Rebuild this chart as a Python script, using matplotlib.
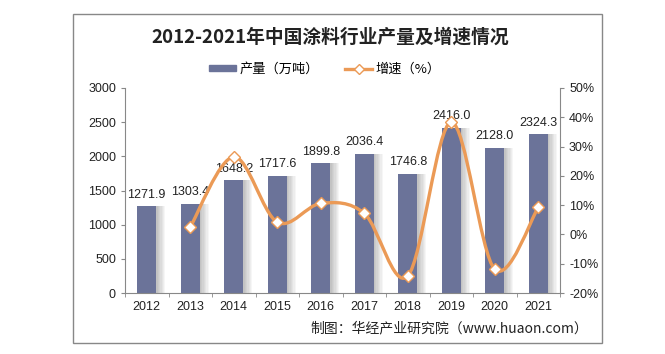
import numpy as np
import matplotlib
matplotlib.use('Agg')
import matplotlib.pyplot as plt
from matplotlib.path import Path
from matplotlib.patches import PathPatch, Rectangle
from matplotlib.lines import Line2D
from matplotlib.patches import Patch

plt.rcParams['font.family'] = ['Liberation Sans', 'Noto Sans CJK SC', 'DejaVu Sans']

years = ['2012', '2013', '2014', '2015', '2016', '2017', '2018', '2019', '2020', '2021']
output = [1271.9, 1303.4, 1648.2, 1717.6, 1899.8, 2036.4, 1746.8, 2416.0, 2128.0, 2324.3]
growth = [None, 2.5, 26.5, 4.2, 10.6, 7.2, -14.2, 38.3, -11.9, 9.2]

bar_c = '#6B7399'
line_c = '#EB9A56'
cjk = ['Noto Sans CJK SC', 'DejaVu Sans']

fig = plt.figure(figsize=(6.65, 3.54), dpi=100)
ax = fig.add_axes([125/665, 1-293/354, 435/665, 205/354])
ax2 = ax.twinx()

x = np.arange(len(years))
# soft shadow to the right of each bar
for k in range(7):
    ax.bar(x + 0.03 + 0.03*k, output, width=0.44, color='#000000', alpha=0.035, lw=0, zorder=1)
ax.bar(x, output, width=0.44, color=bar_c, zorder=2)
for xi, v in zip(x, output):
    ax.text(xi, v + 80, f'{v:.1f}', ha='center', va='bottom', fontsize=9, color='#222222', zorder=3)

ax.set_xlim(-0.5, len(years)-0.5)
ax.set_ylim(0, 3000)
ax.set_yticks(range(0, 3001, 500))
ax.set_xticks(x)
ax.set_xticklabels(years)
ax.set_xticks(np.arange(-0.5, len(years)), minor=True)
ax.tick_params(axis='x', which='major', length=0, pad=6, labelsize=9, labelcolor='#222222')
ax.tick_params(axis='x', which='minor', length=3, color='#888888')
ax.tick_params(axis='y', length=3, color='#888888', labelsize=9, labelcolor='#222222')
for s in ['top', 'right']:
    ax.spines[s].set_visible(False)
for s in ['left', 'bottom']:
    ax.spines[s].set_color('#888888')

# smoothed growth line (Catmull-Rom as cubic Bezier)
gx = [i for i, g in enumerate(growth) if g is not None]
gy = [g for g in growth if g is not None]
pts = np.column_stack([gx, gy]).astype(float)
ext = np.vstack([pts[0], pts, pts[-1]])
verts = [tuple(pts[0])]
codes = [Path.MOVETO]
for i in range(1, len(ext) - 2):
    p0, p1, p2, p3 = ext[i-1], ext[i], ext[i+1], ext[i+2]
    verts += [tuple(p1 + (p2 - p0)/6), tuple(p2 - (p3 - p1)/6), tuple(p2)]
    codes += [Path.CURVE4]*3
ax2.add_patch(PathPatch(Path(verts, codes), fc='none', ec=line_c, lw=2.4, zorder=4))
ax2.plot(gx, gy, ls='none', marker='D', ms=6.5, mfc='white', mec=line_c, mew=1.0, zorder=5)
ax2.set_ylim(-20, 50)
ax2.set_yticks(range(-20, 51, 10))
ax2.set_yticklabels([f'{t}%' for t in range(-20, 51, 10)])
ax2.tick_params(axis='y', length=3, color='#888888', labelsize=9, labelcolor='#222222')
for s in ['top', 'left', 'bottom']:
    ax2.spines[s].set_visible(False)
ax2.spines['right'].set_color('#888888')

# outer frame
fig.patches.append(Rectangle((73/665, 1-343/354), 529/665, 329/354, transform=fig.transFigure,
                             fill=False, ec='#888888', lw=1.0))

fig.text(330/665, 1-37/354, '2012-2021年中国涂料行业产量及增速情况', ha='center', va='center',
         fontsize=13.5, fontweight='bold', family=cjk, color='#222222')

handles = [Patch(color=bar_c), Line2D([], [], color=line_c, lw=2.4, marker='D', ms=5, mfc='white', mec=line_c)]
fig.legend(handles, ['产量（万吨）', '增速（%）'], loc='center', bbox_to_anchor=(325/665, 1-69/354),
           ncol=2, frameon=False, prop={'family': cjk, 'size': 9.5}, handlelength=2.0,
           handleheight=0.35, columnspacing=2.0, handletextpad=0.3)

fig.text(588/665, 1-328/354, '制图：华经产业研究院（www.huaon.com）', ha='right', va='center',
         fontsize=10, family=cjk, color='#222222')

fig.savefig('out.png', dpi=100)
